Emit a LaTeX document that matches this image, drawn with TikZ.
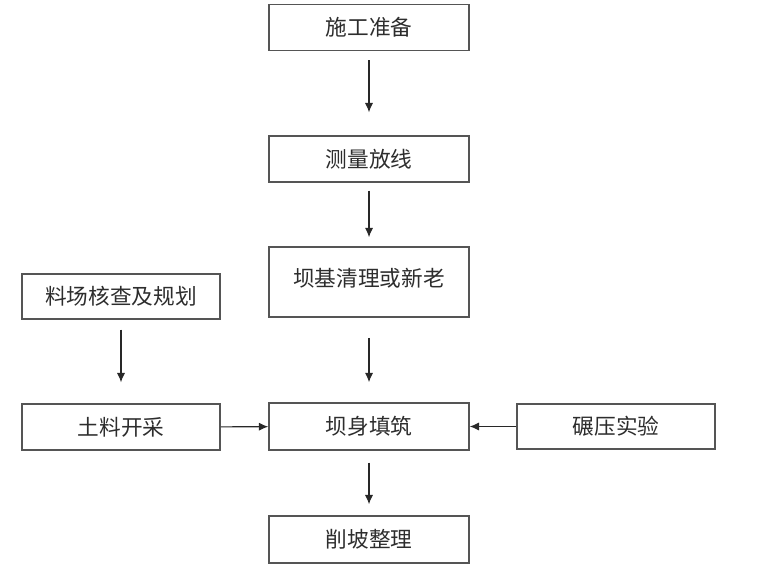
\documentclass[tikz,border=0pt]{standalone}
\usepackage{fontspec}
\setmainfont{Noto Sans CJK SC}
\usepackage{tikz}
\usetikzlibrary{arrows.meta,positioning}

\definecolor{boxline}{RGB}{85,85,85}
\definecolor{arrowline}{RGB}{40,40,40}
\definecolor{boxtext}{RGB}{45,45,45}

\tikzset{
    stepbox/.style={rectangle, draw=boxline, line width=1.3pt, minimum width=6cm, minimum height=1.38cm, inner sep=0pt, text=boxtext, font=\fontsize{18.5}{20}\selectfont},
    flow/.style={draw=arrowline, line width=0.9pt, -{Latex[length=8pt,width=7pt]}}
}

\begin{document}
\begin{tikzpicture}[x=0.03cm, y=-0.03cm]
    \useasboundingbox (0,0) rectangle (760,570);

    % Main column
    \node[stepbox] (prep) at (369,27.5) {施工准备};
    \node[stepbox] (survey) at (369,159) {测量放线};
    \node[stepbox, minimum height=2.1cm] (base) at (369,282) {\raisebox{0.3cm}{坝基清理或新老}};
    \node[stepbox, minimum height=1.41cm] (fill) at (369,426.5) {坝身填筑};
    \node[stepbox, minimum height=1.41cm] (trim) at (369,539.5) {削坡整理};

    % Side boxes
    \node[stepbox, minimum width=5.94cm, minimum height=1.35cm] (plan) at (121,296.5) {料场核查及规划};
    \node[stepbox, minimum width=5.94cm] (dig) at (121,427) {土料开采};
    \node[stepbox, minimum width=5.94cm, minimum height=1.35cm] (roll) at (616,426.5) {碾压实验};

    % Arrows
    \draw[flow, shorten <=7.7pt, shorten >=19.6pt] (prep) -- (survey);
    \draw[flow, shorten <=6.8pt, shorten >=7.7pt] (survey) -- (base);
    \draw[flow, shorten <=17.1pt, shorten >=17.1pt] (base) -- (fill);
    \draw[flow, shorten <=10.2pt, shorten >=9.4pt] (fill) -- (trim);
    \draw[flow, shorten <=8.5pt, shorten >=17.9pt] (plan) -- (dig);
    \draw[flow] (dig) -- (fill);
    \draw[flow] (roll) -- (fill);

\end{tikzpicture}
\end{document}
